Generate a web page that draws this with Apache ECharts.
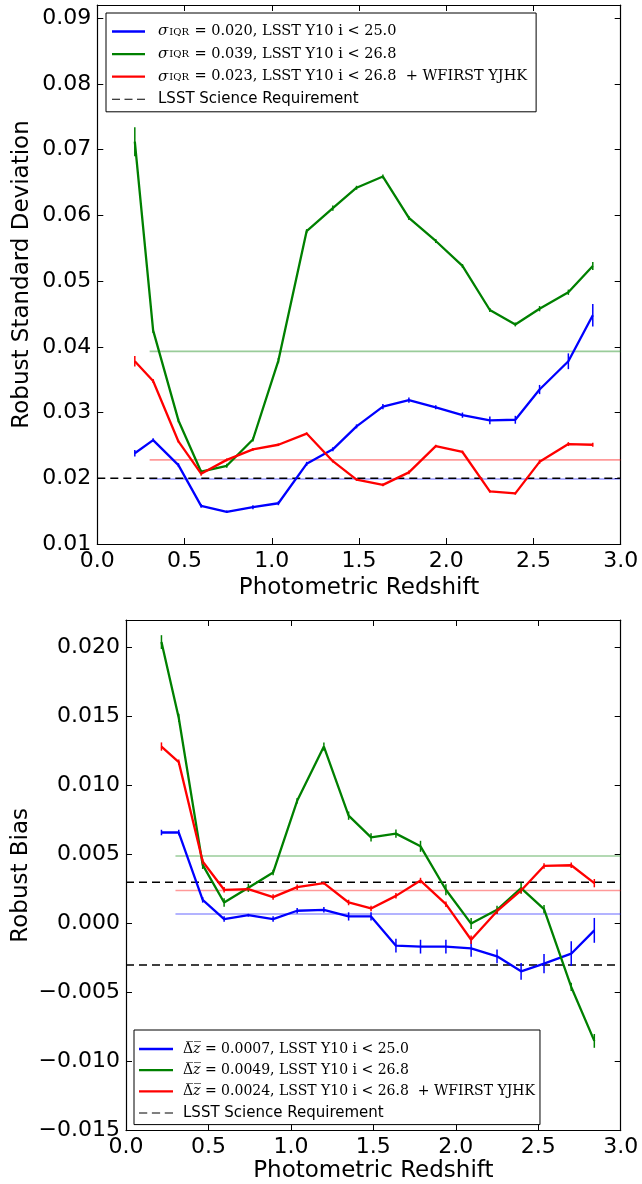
<!DOCTYPE html>
<html>
<head>
<meta charset="utf-8">
<script src="https://cdn.jsdelivr.net/npm/echarts@6/dist/echarts.min.js"></script>
<style>
  html, body { margin: 0; padding: 0; background: #fff; }
  #chart { width: 642px; height: 1184px; }
</style>
</head>
<body>
<div id="chart"></div>
<script>
// Photometric redshift bin centres shared by all curves
const zBins = [0.215, 0.32, 0.465, 0.595, 0.742, 0.892, 1.038, 1.20, 1.35, 1.486,
               1.637, 1.786, 1.94, 2.093, 2.25, 2.396, 2.535, 2.70, 2.84];

// Sample labels
const sampleNames = ['LSST Y10 i < 25.0', 'LSST Y10 i < 26.8', 'LSST Y10 i < 26.8  + WFIRST YJHK'];
const reqName = 'LSST Science Requirement';

// Robust standard deviation per bin, with error half-widths
const stdBlue  = [0.0238, 0.0258, 0.0220, 0.0158, 0.0149, 0.0156, 0.0162, 0.0222, 0.0244, 0.0279,
                  0.0309, 0.0319, 0.0308, 0.0296, 0.0288, 0.0289, 0.0335, 0.0378, 0.0448];
const stdGreen = [0.0712, 0.0425, 0.0288, 0.0210, 0.0219, 0.0259, 0.0379, 0.0576, 0.0611, 0.0642,
                  0.0659, 0.0596, 0.0561, 0.0523, 0.0456, 0.0434, 0.0458, 0.0483, 0.0523];
const stdRed   = [0.0378, 0.0348, 0.0256, 0.0207, 0.0228, 0.0244, 0.0251, 0.0268, 0.0226, 0.0198,
                  0.0190, 0.0209, 0.0249, 0.0240, 0.0180, 0.0177, 0.0225, 0.0252, 0.0251];
const stdErrBlue  = [0.0005, 0.0003, 0.0003, 0.0003, 0.0002, 0.0003, 0.0003, 0.0003, 0.0003, 0.0003,
                     0.0004, 0.0004, 0.0003, 0.0004, 0.0006, 0.0006, 0.0007, 0.0012, 0.0017];
const stdErrGreen = [0.0022, 0.0004, 0.0003, 0.0003, 0.0003, 0.0003, 0.0004, 0.0003, 0.0004, 0.0003,
                     0.0003, 0.0003, 0.0003, 0.0003, 0.0003, 0.0003, 0.0004, 0.0004, 0.0006];
const stdErrRed   = [0.0008, 0.0003, 0.0002, 0.0003, 0.0002, 0.0002, 0.0002, 0.0002, 0.0002, 0.0002,
                     0.0002, 0.0003, 0.0002, 0.0002, 0.0002, 0.0002, 0.0003, 0.0003, 0.0003];

// Robust bias per bin, with error half-widths
const biasBlue  = [0.0066, 0.0066, 0.00172, 0.00033, 0.00061, 0.00033, 0.00093, 0.00100, 0.00052, 0.00052,
                   -0.0016, -0.00167, -0.00167, -0.0018, -0.00237, -0.00346, -0.0029, -0.00218, -0.00049];
const biasGreen = [0.0204, 0.0149, 0.00426, 0.00153, 0.0026, 0.0037, 0.0089, 0.01283, 0.00782, 0.00625,
                   0.00652, 0.0056, 0.00245, 0.0000, 0.0010, 0.00257, 0.00105, -0.00459, -0.0085];
const biasRed   = [0.01283, 0.0117, 0.0045, 0.00245, 0.0025, 0.00192, 0.00264, 0.00293, 0.00153, 0.0011,
                   0.00201, 0.00312, 0.00141, -0.00117, 0.0009, 0.0024, 0.00418, 0.00423, 0.00293];
const biasErrBlue  = [0.0002, 0.0002, 0.0002, 0.0002, 0.0001, 0.0002, 0.0002, 0.0002, 0.0003, 0.0003,
                      0.0005, 0.0005, 0.0005, 0.0006, 0.0005, 0.0006, 0.0007, 0.0009, 0.0009];
const biasErrGreen = [0.0005, 0.0003, 0.0003, 0.0003, 0.0003, 0.0002, 0.0002, 0.0003, 0.0003, 0.0003,
                      0.0003, 0.0004, 0.0004, 0.0004, 0.0003, 0.0004, 0.0003, 0.0003, 0.0005];
const biasErrRed   = [0.0003, 0.0002, 0.0002, 0.0002, 0.0001, 0.0002, 0.0002, 0.0001, 0.0002, 0.0002,
                      0.0002, 0.0002, 0.0002, 0.0003, 0.0002, 0.0002, 0.0002, 0.0002, 0.0003];

// Overall summary values (sigma_IQR and mean bias) and requirement levels
const sigmaIQR = [0.0199, 0.0393, 0.0228];
const meanBias = [0.0007, 0.0049, 0.0024];
const summaryStart = 0.3;
const stdRequirement = 0.02;
const biasRequirement = 0.003;

const colors = ['#0000ff', '#008000', '#ff0000'];
const SANS = 'DejaVu Sans';
const SERIF = 'DejaVu Serif';

function curve(name, gi, vals, color) {
  return {
    type: 'line', name: name, xAxisIndex: gi * 2, yAxisIndex: gi * 2,
    data: zBins.map((z, i) => [z, vals[i]]),
    symbol: 'none', lineStyle: { color: color, width: 2.3 }, itemStyle: { color: color },
    z: 4, animation: false
  };
}

function errorBars(gi, vals, errs, color) {
  return {
    type: 'custom', xAxisIndex: gi * 2, yAxisIndex: gi * 2, silent: true, z: 5,
    itemStyle: { color: color },
    data: zBins.map((z, i) => [z, vals[i] - errs[i], vals[i] + errs[i]]),
    encode: { x: 0, y: [1, 2] },
    renderItem: function (params, api) {
      const a = api.coord([api.value(0), api.value(1)]);
      const b = api.coord([api.value(0), api.value(2)]);
      return { type: 'line', shape: { x1: a[0], y1: a[1], x2: b[0], y2: b[1] },
               style: { stroke: color, lineWidth: 1.5 } };
    },
    animation: false
  };
}

function summaryLine(gi, val, color) {
  return {
    type: 'line', name: 'summary', xAxisIndex: gi * 2, yAxisIndex: gi * 2,
    data: [[summaryStart, val], [3, val]], symbol: 'none', silent: true,
    lineStyle: { color: color, width: 1.6, opacity: 0.4 }, z: 2, animation: false
  };
}

function requirement(gi, val) {
  return {
    type: 'line', name: reqName, xAxisIndex: gi * 2, yAxisIndex: gi * 2,
    data: [[0, val], [3, val]], symbol: 'none', silent: true,
    itemStyle: { color: '#000' },
    lineStyle: { color: '#000', width: 1.5, type: [8, 5] }, z: 3, animation: false
  };
}

const tick = { show: true, inside: true, length: 6, lineStyle: { color: '#000', width: 1 } };
const axLine = { show: true, onZero: false, lineStyle: { color: '#000', width: 1.2 } };
const labelBase = { color: '#000', fontFamily: SANS, fontSize: 22 };
const nameBase = { color: '#000', fontFamily: SANS, fontSize: 23 };

function xPair(gi, gap) {
  return [
    { gridIndex: gi, type: 'value', min: 0, max: 3, interval: 0.5, position: 'bottom',
      axisLine: axLine, axisTick: tick, splitLine: { show: false },
      axisLabel: Object.assign({ margin: 6, formatter: v => v.toFixed(1) }, labelBase),
      name: 'Photometric Redshift', nameLocation: 'middle', nameGap: gap, nameMoveOverlap: false,
      nameTextStyle: nameBase },
    { gridIndex: gi, type: 'value', min: 0, max: 3, interval: 0.5, position: 'top',
      axisLine: axLine, axisTick: tick, splitLine: { show: false }, axisLabel: { show: false } }
  ];
}

function yPair(gi, min, max, step, fmt, name, gap) {
  return [
    { gridIndex: gi, type: 'value', min: min, max: max, interval: step, position: 'left',
      axisLine: axLine, axisTick: tick, splitLine: { show: false },
      axisLabel: Object.assign({ margin: 6, showMaxLabel: false, formatter: fmt }, labelBase),
      name: name, nameLocation: 'middle', nameRotate: 90, nameGap: gap, nameMoveOverlap: false,
      nameTextStyle: nameBase },
    { gridIndex: gi, type: 'value', min: min, max: max, interval: step, position: 'right',
      axisLine: axLine, axisTick: tick, splitLine: { show: false }, axisLabel: { show: false } }
  ];
}

const fmtStd = v => v.toFixed(2);
const fmtBias = v => (Math.abs(v) < 1e-9 ? '0.000' : (v < 0 ? '\u2212' : '') + Math.abs(v).toFixed(3));

// Legend entries: solid bars for the samples, a dashed glyph for the requirement
const dashIcon = 'path://M0,0H8V1H0Z M12.5,0H20.5V1H12.5Z M25,0H33V1H25Z';
const legendItems = sampleNames.map(n => ({ name: n, icon: 'rect' }))
  .concat([{ name: reqName, icon: dashIcon }]);

const mathRich = (fs) => ({
  sig: { fontFamily: SERIF, fontStyle: 'italic', fontSize: fs + 0.5, color: '#000', padding: [0, 0, 0, 8] },
  sub: { fontFamily: SERIF, fontSize: 10, color: '#000', lineHeight: 10, verticalAlign: 'bottom', padding: [0, 1, 2, 1] },
  dl:  { fontFamily: SERIF, fontSize: fs, color: '#000', padding: [0, 0, 0, 5] },
  dz:  { fontFamily: SERIF, fontStyle: 'italic', fontSize: fs, color: '#000' },
  txt: { fontFamily: SERIF, fontSize: fs, color: '#000' },
  sans: { fontFamily: SANS, fontSize: 15, color: '#000', padding: [0, 0, 0, 8] }
});

const option = {
  animation: false,
  backgroundColor: '#fff',
  grid: [
    { left: 97.3, top: 5, width: 523.4, height: 539, outerBoundsMode: 'none' },
    { left: 126, top: 620, width: 494.7, height: 510.6, outerBoundsMode: 'none' }
  ],
  legend: [
    { orient: 'vertical', left: 106, top: 13, data: legendItems,
      itemWidth: 33, itemHeight: 2.3, itemGap: 7.6, padding: [11, 9, 5, 6],
      borderColor: '#000', borderWidth: 1, backgroundColor: '#fff', selectedMode: false,
      textStyle: { rich: mathRich(14.5) },
      formatter: name => {
        const i = sampleNames.indexOf(name);
        if (i < 0) return '{sans|' + name + '}';
        return '{sig|\u03c3}{sub|IQR}{txt| = ' + sigmaIQR[i].toFixed(3) + ', ' + sampleNames[i] + '}';
      } },
    { orient: 'vertical', left: 134, top: 1030, data: legendItems,
      itemWidth: 34, itemHeight: 2.3, itemGap: 7.2, padding: [12, 5, 4, 5],
      borderColor: '#000', borderWidth: 1, backgroundColor: '#fff', selectedMode: false,
      textStyle: { rich: Object.assign(mathRich(14), {
        sans: { fontFamily: SANS, fontSize: 15, color: '#000', padding: [0, 0, 0, 5] }
      }) },
      formatter: name => {
        const i = sampleNames.indexOf(name);
        if (i < 0) return '{sans|' + name + '}';
        return '{dl|\u0394\u0305}{dz|z\u0305}{txt| = ' + meanBias[i].toFixed(4) + ', ' + sampleNames[i] + '}';
      } }
  ],
  xAxis: xPair(0, 33).concat(xPair(1, 29)),
  yAxis: yPair(0, 0.01, 0.092, 0.01, fmtStd, 'Robust Standard Deviation', 64)
    .concat(yPair(1, -0.015, 0.022, 0.005, fmtBias, 'Robust Bias', 93)),
  series: [
    curve(sampleNames[0], 0, stdBlue, colors[0]),
    curve(sampleNames[1], 0, stdGreen, colors[1]),
    curve(sampleNames[2], 0, stdRed, colors[2]),
    errorBars(0, stdBlue, stdErrBlue, colors[0]),
    errorBars(0, stdGreen, stdErrGreen, colors[1]),
    errorBars(0, stdRed, stdErrRed, colors[2]),
    summaryLine(0, sigmaIQR[0], colors[0]),
    summaryLine(0, sigmaIQR[1], colors[1]),
    summaryLine(0, sigmaIQR[2], colors[2]),
    requirement(0, stdRequirement),

    curve(sampleNames[0], 1, biasBlue, colors[0]),
    curve(sampleNames[1], 1, biasGreen, colors[1]),
    curve(sampleNames[2], 1, biasRed, colors[2]),
    errorBars(1, biasBlue, biasErrBlue, colors[0]),
    errorBars(1, biasGreen, biasErrGreen, colors[1]),
    errorBars(1, biasRed, biasErrRed, colors[2]),
    summaryLine(1, meanBias[0], colors[0]),
    summaryLine(1, meanBias[1], colors[1]),
    summaryLine(1, meanBias[2], colors[2]),
    requirement(1, biasRequirement),
    requirement(1, -biasRequirement)
  ]
};

const chart = echarts.init(document.getElementById('chart'), null, { renderer: 'canvas' });
chart.setOption(option);
</script>
</body>
</html>
